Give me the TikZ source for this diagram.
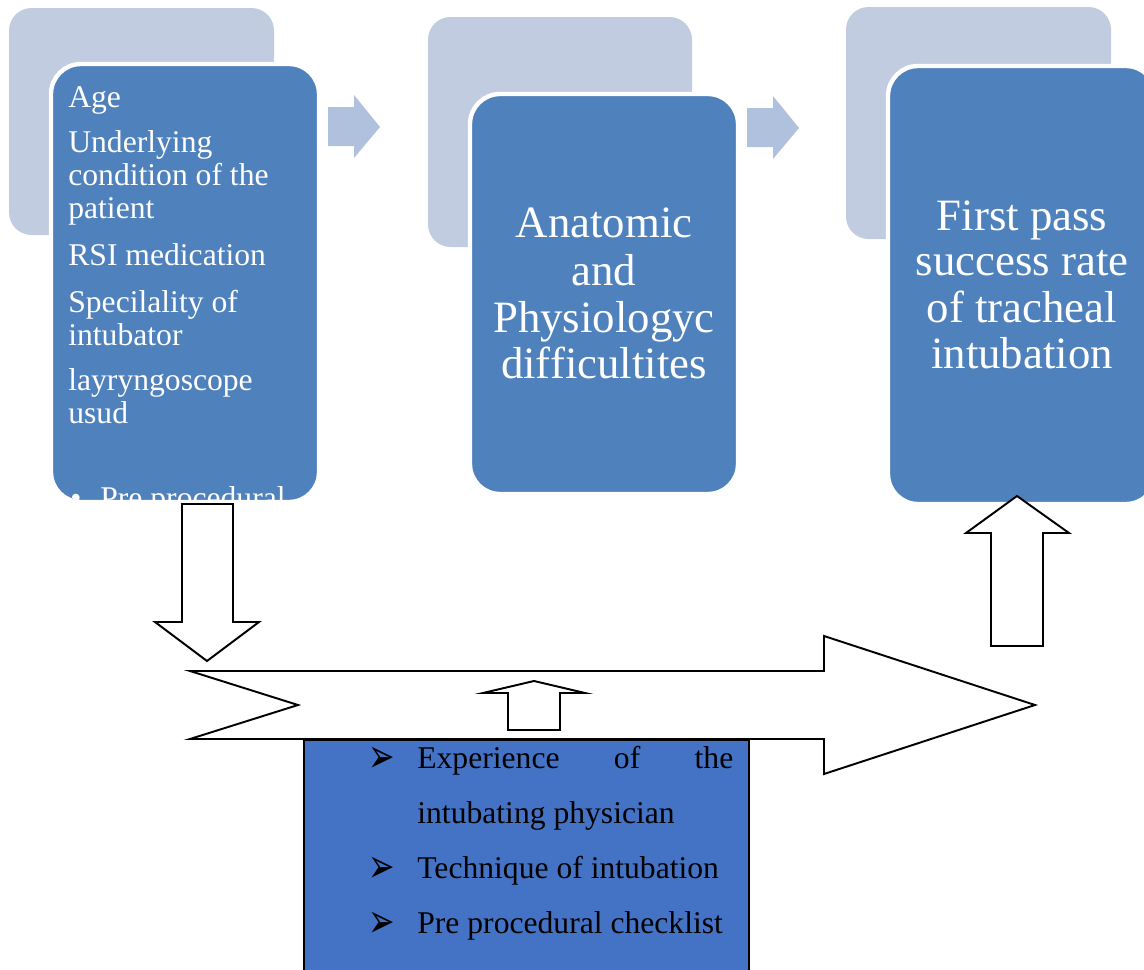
\documentclass[tikz,border=0pt]{standalone}
\usepackage{fontspec}
\setmainfont{Liberation Serif}
\newfontfamily\dingfont{DejaVu Sans}
\definecolor{frontblue}{HTML}{4F81BD}
\definecolor{backblue}{HTML}{C1CCE1}
\definecolor{chevblue}{HTML}{B0C1DD}
\definecolor{boxblue}{HTML}{4472C4}

\begin{document}
\begin{tikzpicture}[x=0.02cm,y=-0.02cm,
  backbox/.style={fill=backblue,rounded corners=0.45cm},
  frontbox/.style={fill=frontblue,draw=white,line width=2.5pt,rounded corners=0.6cm},
  chev/.style={fill=chevblue},
  hollow/.style={draw=black,fill=white,line width=1.1pt,line join=miter},
  smalltxt/.style={inner sep=0pt,text=white,anchor=base west,font=\fontsize{18}{20}\selectfont},
  bigtxt/.style={inner sep=0pt,text=white,anchor=base,font=\fontsize{25.5}{28}\selectfont},
  listtxt/.style={inner sep=0pt,anchor=base west,font=\fontsize{18}{20}\selectfont},
  tick/.style={inner sep=0pt,anchor=base,font=\dingfont\fontsize{18}{20}\selectfont}]
\useasboundingbox (0,0) rectangle (1144,970);

% three stacked cards
\path[backbox] (9,8) rectangle (274,235);
\path[frontbox] (51,64) rectangle (319,502);
\path[backbox] (428,17) rectangle (692,247);
\path[frontbox] (470,94) rectangle (738,494);
\path[backbox] (846,7) rectangle (1111,239);
\path[frontbox] (888,66) rectangle (1156,504);

% chevrons between the cards
\path[chev] (328,107) -- (354,107) -- (354,95) -- (380,127) -- (354,158) -- (354,146) -- (328,146) -- cycle;
\path[chev] (747,108) -- (773,108) -- (773,96) -- (799,128) -- (773,159) -- (773,147) -- (747,147) -- cycle;

\node[smalltxt] (a1) at (68,107) {Age};
\node[smalltxt] (a2) at (68,152) {Underlying};
\node[smalltxt] (a3) at (68,185) {condition of the};
\node[smalltxt] (a4) at (68,218) {patient};
\node[smalltxt] (a5) at (68,265) {RSI medication};
\node[smalltxt] (a6) at (68,312) {Specilality of};
\node[smalltxt] (a7) at (68,345) {intubator};
\node[smalltxt] (a8) at (68,390) {layryngoscope};
\node[smalltxt] (a9) at (68,423) {usud};
\begin{scope}
\clip[rounded corners=0.6cm] (53,66) rectangle (317,500);
\node[smalltxt] (a10) at (70,508) {\textbullet};
\node[smalltxt] (a11) at (100,508) {Pre procedural};
\end{scope}

\node[bigtxt] (b1) at (604,237) {Anatomic};
\node[bigtxt] (b2) at (604,285) {and};
\node[bigtxt] (b3) at (604,332) {Physiologyc};
\node[bigtxt] (b4) at (604,378) {difficultites};

\node[bigtxt] (c1) at (1022,230) {First pass};
\node[bigtxt] (c2) at (1022,275) {success rate};
\node[bigtxt] (c3) at (1022,322) {of tracheal};
\node[bigtxt] (c4) at (1022,368) {intubation};

% block arrows
\draw[hollow] (182,504) -- (233,504) -- (233,622) -- (259,622) -- (207,661) -- (155,622) -- (182,622) -- cycle;
\draw[hollow] (190,671) -- (824,671) -- (824,636) -- (1035,705) -- (824,774) -- (824,739) -- (190,739) -- (298,705) -- cycle;
\draw[hollow] (508,730) -- (560,730) -- (560,693) -- (585,693) -- (534,681) -- (483,693) -- (508,693) -- cycle;
\draw[hollow] (991,646) -- (1043,646) -- (1043,533) -- (1069,533) -- (1017,496) -- (966,533) -- (991,533) -- cycle;

% factors box
\draw[fill=boxblue,line width=1.1pt] (304,740) rectangle (749,980);
\node[tick] (t1) at (382,772) {\scalebox{1}[1.5]{➢}};
\node[listtxt] (d1) at (417,768) {\makebox[6.32cm][s]{Experience of the}};
\node[listtxt] (d2) at (417,823) {intubating physician};
\node[tick] (t2) at (382,882) {\scalebox{1}[1.5]{➢}};
\node[listtxt] (d3) at (417,878) {Technique of intubation};
\node[tick] (t3) at (382,937) {\scalebox{1}[1.5]{➢}};
\node[listtxt] (d4) at (417,933) {Pre procedural checklist};
\end{tikzpicture}
\end{document}
